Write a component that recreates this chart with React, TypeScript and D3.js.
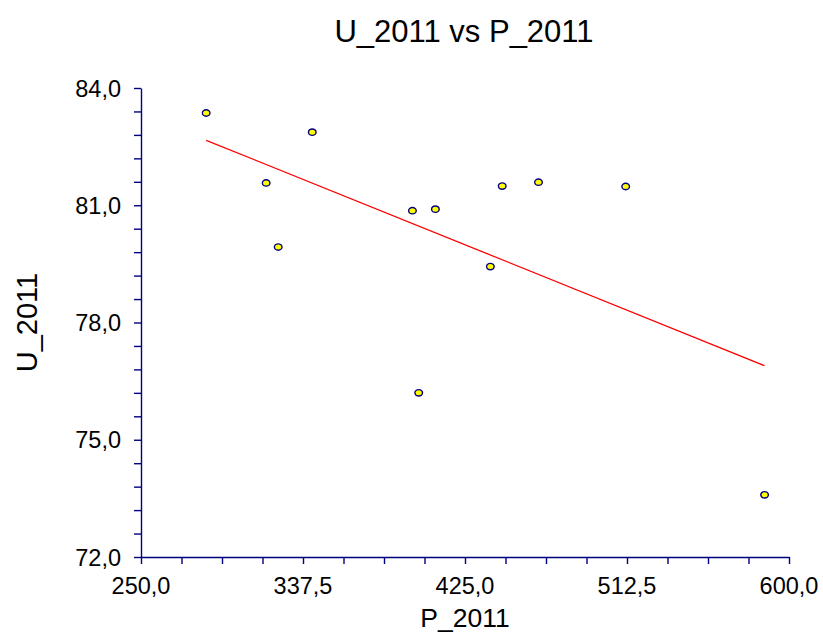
import React, { useEffect, useRef } from "react";
import * as d3 from "d3";

// P_2011 / U_2011 pairs
const pValues = [285.2, 317.6, 324.1, 342.5, 396.6, 409.0, 400.0, 438.7, 445.1, 464.7, 511.8, 586.8];
const uValues = [83.36, 81.57, 79.93, 82.87, 80.86, 80.9, 76.2, 79.43, 81.49, 81.59, 81.48, 73.59];

const xTickLabels = [250, 337.5, 425, 512.5, 600];
const yTickLabels = [72, 75, 78, 81, 84];

const fmt = (v: number) => v.toFixed(1).replace(".", ",");

const App: React.FC = () => {
  const svgRef = useRef<SVGSVGElement | null>(null);

  useEffect(() => {
    if (!svgRef.current) return;
    const svg = d3.select(svgRef.current);
    svg.selectAll("*").remove();

    const left = 141;
    const right = 789;
    const top = 88;
    const bottom = 557;
    const navy = "#000080";
    const font = "'Liberation Sans', Arial, sans-serif";

    const x = d3.scaleLinear().domain([250, 600]).range([left, right]);
    const y = d3.scaleLinear().domain([72, 84]).range([bottom, top]);

    // minor + major ticks
    const xTicks = d3.range(0, 17).map((i) => 250 + i * 21.875);
    const yTicks = d3.range(0, 21).map((i) => 72 + i * 0.6);

    const xAxis = d3
      .axisBottom(x)
      .tickValues(xTicks)
      .tickSize(7)
      .tickSizeOuter(0)
      .tickFormat(() => "");
    const yAxis = d3
      .axisLeft(y)
      .tickValues(yTicks)
      .tickSize(7)
      .tickSizeOuter(0)
      .tickFormat(() => "");

    const gx = svg.append("g").attr("transform", `translate(0,${bottom})`).call(xAxis);
    const gy = svg.append("g").attr("transform", `translate(${left},0)`).call(yAxis);
    [gx, gy].forEach((g) => {
      g.selectAll("path,line").attr("stroke", navy).attr("stroke-width", 1.4);
    });

    svg
      .selectAll("text.xl")
      .data(xTickLabels)
      .enter()
      .append("text")
      .attr("class", "xl")
      .attr("x", (d) => x(d))
      .attr("y", 594)
      .attr("text-anchor", "middle")
      .style("font-family", font)
      .style("font-size", "23.5px")
      .attr("fill", "#000")
      .text((d) => fmt(d));

    svg
      .selectAll("text.yl")
      .data(yTickLabels)
      .enter()
      .append("text")
      .attr("class", "yl")
      .attr("x", 121)
      .attr("y", (d) => y(d) + 8.5)
      .attr("text-anchor", "end")
      .style("font-family", font)
      .style("font-size", "23.5px")
      .attr("fill", "#000")
      .text((d) => fmt(d));

    // least squares fit line
    const n = pValues.length;
    const mx = d3.mean(pValues) || 0;
    const my = d3.mean(uValues) || 0;
    let sxy = 0;
    let sxx = 0;
    for (let i = 0; i < n; i++) {
      sxy += (pValues[i] - mx) * (uValues[i] - my);
      sxx += (pValues[i] - mx) ** 2;
    }
    const slope = sxy / sxx;
    const icpt = my - slope * mx;
    const [x0, x1] = d3.extent(pValues) as [number, number];

    svg
      .append("line")
      .attr("x1", x(x0))
      .attr("y1", y(icpt + slope * x0))
      .attr("x2", x(x1))
      .attr("y2", y(icpt + slope * x1))
      .attr("stroke", "#ff0000")
      .attr("stroke-width", 1.3);

    svg
      .selectAll("ellipse.pt")
      .data(pValues.map((p, i) => [p, uValues[i]]))
      .enter()
      .append("ellipse")
      .attr("class", "pt")
      .attr("cx", (d) => x(d[0]))
      .attr("cy", (d) => y(d[1]))
      .attr("rx", 3.8)
      .attr("ry", 3.2)
      .attr("fill", "#ffff00")
      .attr("stroke", navy)
      .attr("stroke-width", 1.4);

    svg
      .append("text")
      .attr("x", 464)
      .attr("y", 42)
      .attr("text-anchor", "middle")
      .style("font-family", font)
      .style("font-size", "31px")
      .text("U_2011 vs P_2011");

    svg
      .append("text")
      .attr("x", 465)
      .attr("y", 627)
      .attr("text-anchor", "middle")
      .style("font-family", font)
      .style("font-size", "26.5px")
      .text("P_2011");

    svg
      .append("text")
      .attr("transform", `translate(37,${(top + bottom) / 2}) rotate(-90)`)
      .attr("text-anchor", "middle")
      .style("font-family", font)
      .style("font-size", "29px")
      .text("U_2011");
  }, []);

  return (
    <svg
      ref={svgRef}
      width={823}
      height={632}
      style={{ position: "absolute", left: 0, top: 0, background: "#fff" }}
    />
  );
};

export default App;
